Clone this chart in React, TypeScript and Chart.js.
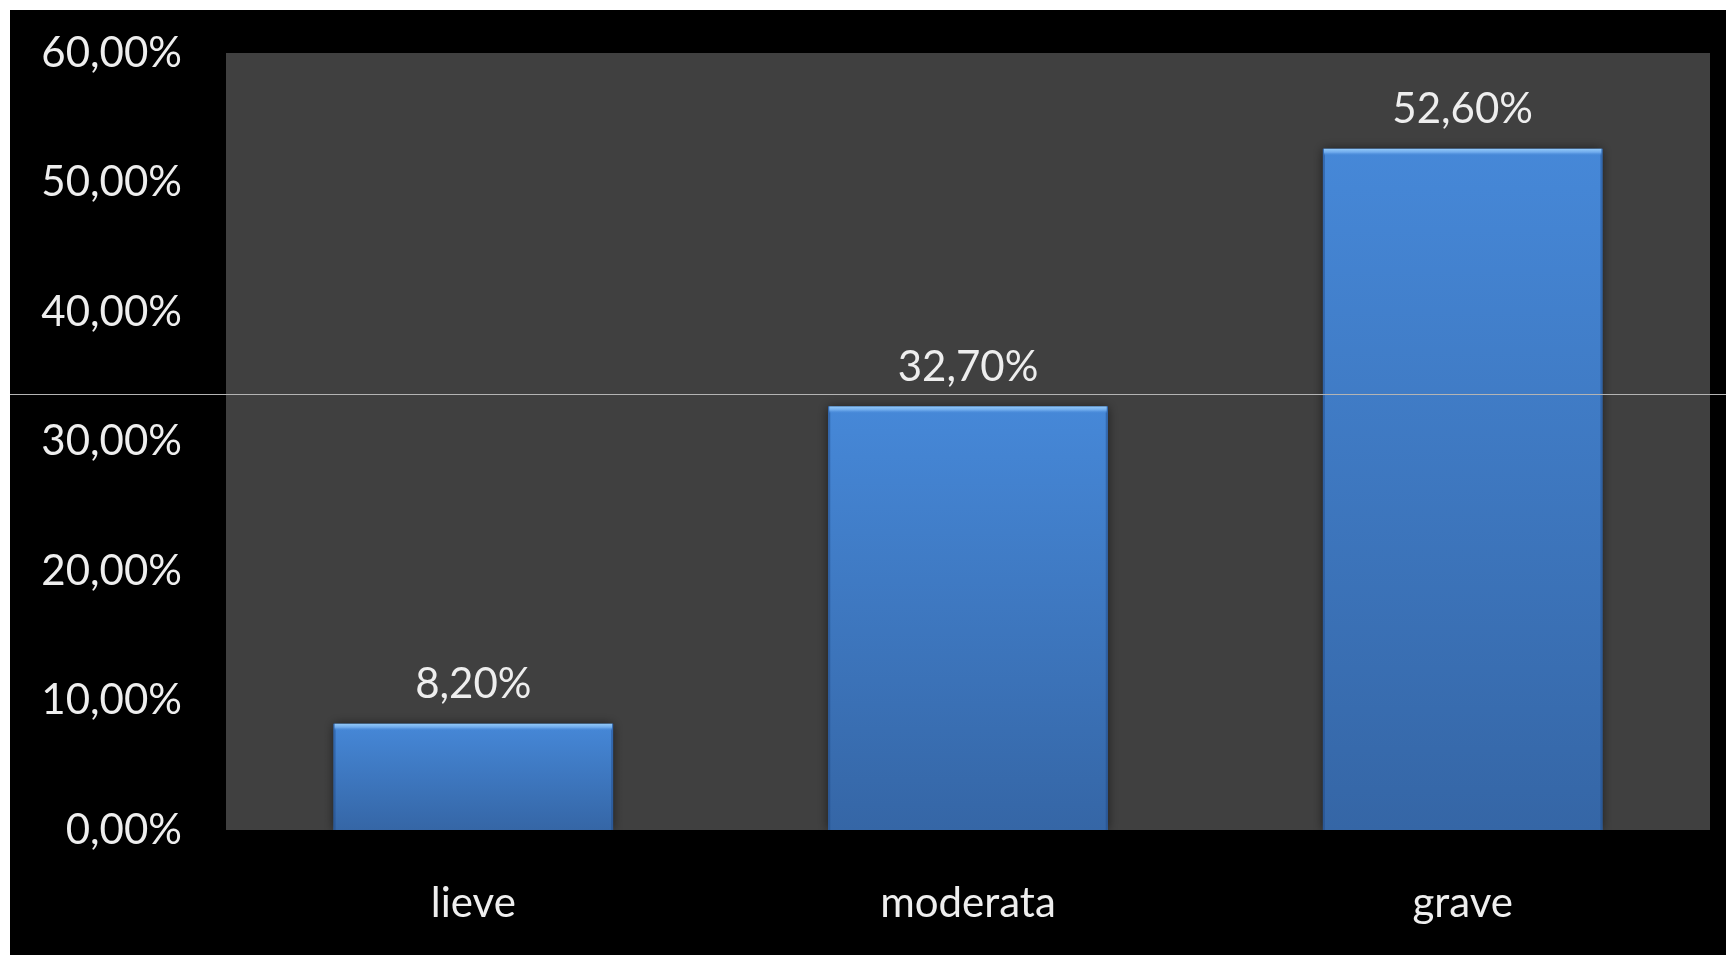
import React, { useEffect, useRef } from "react";
import { Chart, registerables } from "chart.js";

Chart.register(...registerables);

const categories: string[] = ["lieve", "moderata", "grave"];
const values: number[] = [8.2, 32.7, 52.6];
const yMin = 0;
const yMax = 60;
const yStep = 10;

const fmt = (v: number) => v.toFixed(2).replace(".", ",") + "%";

const FONT = "Lato, 'Open Sans', sans-serif";
const TEXT = "#eeeeee";

const bgPlugin = {
  id: "bgPlugin",
  beforeDraw(chart: any) {
    const { ctx, chartArea, width, height } = chart;
    ctx.save();
    ctx.fillStyle = "#000000";
    ctx.fillRect(0, 0, width, height);
    ctx.fillStyle = "#404040";
    ctx.fillRect(chartArea.left, chartArea.top, chartArea.right - chartArea.left, chartArea.bottom - chartArea.top);
    ctx.restore();
  },
};

const barStylePlugin = {
  id: "barStylePlugin",
  afterDatasetsDraw(chart: any) {
    const { ctx } = chart;
    const meta = chart.getDatasetMeta(0);
    ctx.save();
    meta.data.forEach((el: any, i: number) => {
      const left = el.x - el.width / 2;
      const top = el.y;
      const bottom = el.base;
      const w = el.width;
      const h = bottom - top;
      ctx.save();
      ctx.shadowColor = "rgba(0,0,0,0.55)";
      ctx.shadowBlur = 10;
      const g = ctx.createLinearGradient(0, top, 0, bottom);
      g.addColorStop(0, "#4688d8");
      g.addColorStop(1, "#3566a6");
      ctx.fillStyle = g;
      ctx.fillRect(left, top, w, h);
      ctx.restore();
      ctx.fillStyle = "rgba(30,70,130,0.45)";
      ctx.fillRect(left, top, 2, h);
      ctx.fillRect(left + w - 2, top, 2, h);
      const hg = ctx.createLinearGradient(0, top, 0, top + 7);
      hg.addColorStop(0, "#93c9f8");
      hg.addColorStop(0.5, "#6eaaec");
      hg.addColorStop(1, "rgba(70,136,216,0)");
      ctx.fillStyle = hg;
      ctx.fillRect(left + 1, top, w - 2, 7);
      ctx.fillStyle = TEXT;
      ctx.font = `42px ${FONT}`;
      ctx.textAlign = "center";
      ctx.textBaseline = "alphabetic";
      ctx.fillText(fmt(values[i]), el.x, top - 26);
    });
    ctx.restore();
  },
  afterDraw(chart: any) {
    const { ctx, width } = chart;
    ctx.save();
    ctx.strokeStyle = "#b4b4b4";
    ctx.lineWidth = 1;
    ctx.beginPath();
    ctx.moveTo(0, 384.5);
    ctx.lineTo(width, 384.5);
    ctx.stroke();
    ctx.restore();
  },
};

export default function App() {
  const ref = useRef<HTMLCanvasElement | null>(null);

  useEffect(() => {
    document.body.style.overflow = "hidden";
    if (!ref.current) return;
    const chart = new Chart(ref.current, {
      type: "bar",
      data: {
        labels: categories,
        datasets: [
          {
            data: values,
            backgroundColor: "#3f7cc8",
            borderWidth: 0,
            barPercentage: 0.565,
            categoryPercentage: 1,
          },
        ],
      },
      options: {
        responsive: false,
        animation: false,
        devicePixelRatio: 1,
        layout: { padding: { top: 43, right: 16, bottom: 0, left: 0 } },
        plugins: {
          legend: { display: false },
          tooltip: { enabled: false },
          title: { display: false },
        },
        scales: {
          x: {
            grid: { display: false, drawTicks: false },
            border: { display: false },
            ticks: {
              color: TEXT,
              font: { family: FONT, size: 42 },
              padding: 48,
              maxRotation: 0,
            },
            afterFit(scale: any) {
              scale.height = 125;
              scale.paddingLeft = 0;
              scale.paddingRight = 0;
            },
          },
          y: {
            min: yMin,
            max: yMax,
            grid: { display: false, drawTicks: false },
            border: { display: false },
            ticks: {
              stepSize: yStep,
              color: TEXT,
              font: { family: FONT, size: 42 },
              padding: 44,
              callback: (v: any) => fmt(Number(v)),
            },
            afterFit(scale: any) {
              scale.width = 216;
              scale.paddingTop = 0;
              scale.paddingBottom = 0;
            },
          },
        },
      },
      plugins: [bgPlugin, barStylePlugin],
    });
    return () => chart.destroy();
  }, []);

  return (
    <div style={{ position: "absolute", left: 10, top: 10, width: 1716, height: 945 }}>
      <canvas ref={ref} width={1716} height={945} style={{ display: "block" }} />
    </div>
  );
}
